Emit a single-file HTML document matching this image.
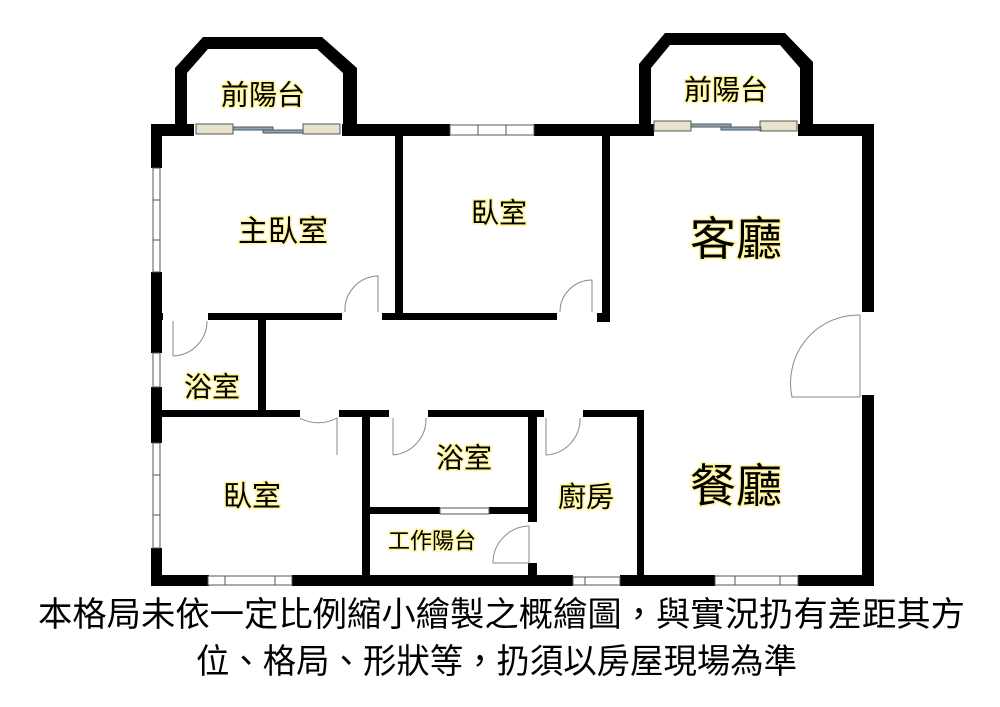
<!DOCTYPE html>
<html><head><meta charset="utf-8"><style>
html,body{margin:0;padding:0;background:#fff;}
svg{display:block;}
.lbl{font-family:"Liberation Sans","Noto Sans CJK TC",sans-serif;fill:#000;stroke:#fff59a;stroke-width:3;paint-order:stroke;text-anchor:middle;dominant-baseline:central;}
.bt{font-family:"Liberation Sans","Noto Sans CJK TC",sans-serif;fill:#000;font-size:34px;dominant-baseline:central;}
</style></head><body>
<svg width="1000" height="707" viewBox="0 0 1000 707" xmlns="http://www.w3.org/2000/svg">
<g fill="#000">
<!-- left balcony -->
<polygon points="175,124 175,68 203,37 322,37 357,68 357,124 343,124 343,73 317,49 208,49 187,73 187,124"/>
<!-- right balcony -->
<polygon points="639,124 639,64 665,33 785,33 813,62 813,124 800,124 800,68 780,45 670,45 651,68 651,124"/>
<!-- top wall -->
<rect x="151" y="124" width="43" height="12"/>
<rect x="342" y="124" width="108" height="12"/>
<rect x="534" y="124" width="120" height="12"/>
<rect x="798" y="124" width="76" height="12"/>
<!-- left wall -->
<rect x="151" y="124" width="11" height="44"/>
<rect x="151" y="272" width="11" height="81"/>
<rect x="151" y="387" width="11" height="56"/>
<rect x="151" y="548" width="11" height="38"/>
<!-- right wall -->
<rect x="862" y="124" width="12" height="188"/>
<rect x="862" y="395" width="12" height="191"/>
<!-- bottom wall -->
<rect x="151" y="575" width="58" height="11"/>
<rect x="292" y="575" width="281" height="11"/>
<rect x="620" y="575" width="95" height="11"/>
<rect x="798" y="575" width="76" height="11"/>
<!-- interior verticals -->
<rect x="395" y="136" width="8" height="184"/>
<rect x="602" y="136" width="8" height="186"/>
<rect x="597" y="313" width="13" height="9"/>
<rect x="258" y="320" width="8" height="92"/>
<rect x="362" y="410" width="8" height="170"/>
<rect x="528" y="410" width="9" height="112"/>
<rect x="528" y="563" width="9" height="16"/>
<rect x="637" y="410" width="7" height="170"/>
<!-- horizontal y~313 -->
<rect x="151" y="313" width="12" height="7"/>
<rect x="208" y="313" width="134" height="7"/>
<rect x="382" y="313" width="175" height="7"/>
<!-- horizontal y~410 -->
<rect x="162" y="410" width="138" height="7"/>
<rect x="339" y="410" width="50" height="7"/>
<rect x="428" y="410" width="116" height="7"/>
<rect x="583" y="410" width="58" height="7"/>
<!-- utility wall -->
<rect x="370" y="507" width="70" height="7"/>
<rect x="489" y="507" width="40" height="7"/>
</g>
<!-- windows -->
<g stroke="#555" stroke-width="1">
<rect x="196" y="124" width="37" height="10" fill="#e8e3cf"/>
<rect x="303" y="124" width="37" height="10" fill="#e8e3cf"/>
<rect x="233" y="127" width="40" height="3" fill="#8aa7bb"/>
<rect x="263" y="130" width="40" height="3" fill="#8aa7bb"/>
<rect x="654" y="121" width="37" height="10" fill="#e8e3cf"/>
<rect x="760" y="121" width="37" height="10" fill="#e8e3cf"/>
<rect x="691" y="124" width="40" height="3" fill="#8aa7bb"/>
<rect x="721" y="127" width="40" height="3" fill="#8aa7bb"/>
<g fill="#fff">
<rect x="450" y="125" width="84" height="10"/><line x1="478" y1="125" x2="478" y2="135"/><line x1="506" y1="125" x2="506" y2="135"/>
<rect x="153" y="168" width="7" height="104"/><line x1="153" y1="200" x2="160" y2="200"/><line x1="153" y1="240" x2="160" y2="240"/>
<rect x="153" y="353" width="7" height="34"/>
<rect x="153" y="443" width="7" height="105"/><line x1="153" y1="475" x2="160" y2="475"/><line x1="153" y1="515" x2="160" y2="515"/>
<rect x="208" y="576" width="84" height="9"/><line x1="225" y1="576" x2="225" y2="585"/><line x1="275" y1="576" x2="275" y2="585"/>
<rect x="573" y="577" width="47" height="8"/><line x1="585" y1="577" x2="585" y2="585"/>
<rect x="715" y="576" width="83" height="9"/><line x1="735" y1="576" x2="735" y2="585"/><line x1="780" y1="576" x2="780" y2="585"/>
<rect x="440" y="508" width="49" height="6"/>
</g>
</g>
<!-- doors -->
<g fill="none" stroke="#888" stroke-width="1">
<path d="M378,312 L378,276 A34,34 0 0 0 345,312"/>
<path d="M592,312 L592,280 A32,32 0 0 0 560,312"/>
<path d="M173,356 L173,321 M173,356 A35,35 0 0 0 207,321"/>
<path d="M337,455 L337,418 A38,38 0 0 1 300,418"/>
<path d="M393,455 L393,418 M393,455 A36,36 0 0 0 426,418"/>
<path d="M546,455 L546,418 M546,455 A36,36 0 0 0 580,418"/>
<path d="M529,526 L529,563 L493,563 A37,37 0 0 1 529,526"/>
<path d="M860,315 L860,397 L792,397 A68,68 0 0 1 860,315"/>
</g>
<!-- labels -->
<g class="lbl">
<text x="263" y="95" font-size="28">前陽台</text>
<text x="726" y="90" font-size="28">前陽台</text>
<text x="283" y="232" font-size="30">主臥室</text>
<text x="499" y="213" font-size="28">臥室</text>
<text x="736" y="239" font-size="46">客廳</text>
<text x="212" y="387" font-size="28">浴室</text>
<text x="464" y="458" font-size="28">浴室</text>
<text x="252" y="497" font-size="29">臥室</text>
<text x="586" y="497" font-size="28">廚房</text>
<text x="432" y="541" font-size="22">工作陽台</text>
<text x="736" y="486" font-size="46">餐廳</text>
</g>
<text class="bt" x="38" y="615" textLength="927" lengthAdjust="spacingAndGlyphs">本格局未依一定比例縮小繪製之概繪圖，與實況扔有差距其方</text>
<text class="bt" x="196" y="662" textLength="601" lengthAdjust="spacingAndGlyphs">位、格局、形狀等，扔須以房屋現場為準</text>
</svg>
</body></html>
